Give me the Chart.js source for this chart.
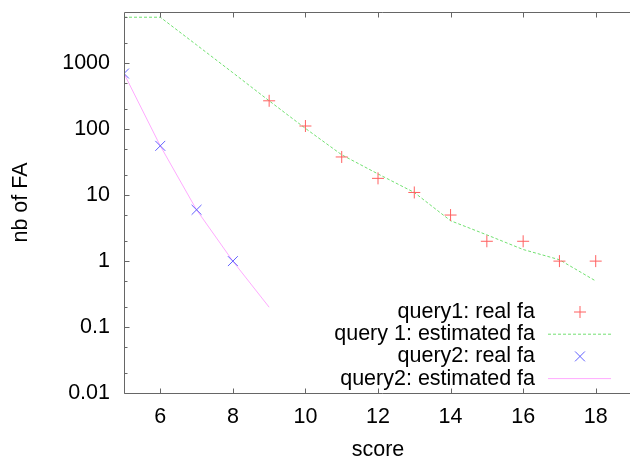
<!DOCTYPE html>
<html>
<head>
<meta charset="utf-8">
<script src="https://cdn.jsdelivr.net/npm/chart.js@4.4.1/dist/chart.umd.min.js"></script>
<style>
  html, body { margin: 0; padding: 0; background: #fff; overflow: hidden; }
  canvas { display: block; }
</style>
</head>
<body>
<canvas id="fa-chart" width="640" height="457"></canvas>
<script>
// data
var realScores1 = [9, 10, 11, 12, 13, 14, 15, 16, 17, 18];
var realFa1 = [270, 112, 38, 18, 11, 5, 2, 2, 1, 1];
var estScores1 = [5, 6, 7, 8, 9, 10, 11, 12, 13, 14, 15, 16, 17, 18];
var estFa1 = [5000, 5000, 1900, 720, 270, 103, 41, 21, 11, 4.1, 2.5, 1.5, 1.05, 0.5];
var realScores2 = [5, 6, 7, 8];
var realFa2 = [700, 56, 6, 1];
var estScores2 = [5, 6, 7, 8, 9];
var estFa2 = [700, 56, 6, 1, 0.2];
var xTicks = [6, 8, 10, 12, 14, 16, 18];
var yTicks = [0.01, 0.02, 0.05, 0.1, 0.2, 0.5, 1, 2, 5, 10, 20, 50, 100, 200, 500, 1000, 2000, 5000];
var yLabels = [0.01, 0.1, 1, 10, 100, 1000];

var FONT = '"Liberation Sans", Arial, sans-serif';
var FSIZE = 21.5;
var BORDER = '#666666';

function pts(xs, ys) {
    return xs.map(function (x, i) { return {x: x, y: ys[i]}; });
}

// gnuplot-like frame with inward ticks (right side falls outside the window)
var framePlugin = {
    id: 'frame',
    afterDatasetsDraw: function (chart) {
        var ctx = chart.ctx, a = chart.chartArea;
        var xs = chart.scales.x, ys = chart.scales.y;
        var l = Math.round(a.left) + 0.5, t = Math.round(a.top) + 0.5, b = Math.round(a.bottom) + 0.5;
        ctx.save();
        ctx.strokeStyle = BORDER;
        ctx.lineWidth = 1;
        ctx.beginPath();
        xTicks.forEach(function (v) {
            var px = Math.round(xs.getPixelForValue(v)) + 0.5;
            ctx.moveTo(px, b); ctx.lineTo(px, b - 5);
            ctx.moveTo(px, t); ctx.lineTo(px, t + 5);
        });
        yTicks.forEach(function (v) {
            var py = Math.round(ys.getPixelForValue(v)) + 0.5;
            var len = yLabels.indexOf(v) >= 0 ? 5 : 3;
            ctx.moveTo(l, py); ctx.lineTo(l + len, py);
        });
        ctx.moveTo(a.right + 10, t); ctx.lineTo(l, t); ctx.lineTo(l, b); ctx.lineTo(a.right + 10, b);
        ctx.stroke();
        ctx.restore();
    }
};

// legend in the lower right, text right-aligned with sample after it
var keyPlugin = {
    id: 'key',
    afterDraw: function (chart) {
        var ctx = chart.ctx;
        ctx.save();
        ctx.font = FSIZE + 'px ' + FONT;
        ctx.textAlign = 'right';
        ctx.textBaseline = 'middle';
        chart.data.datasets.forEach(function (ds, i) {
            var y = 312 + i * 22.2;
            ctx.fillStyle = '#000';
            ctx.fillText(ds.label, 535, y);
            ctx.strokeStyle = ds.borderColor;
            ctx.lineWidth = ds.borderWidth;
            ctx.beginPath();
            if (ds.showLine === false) {
                var r = ds.pointRadius;
                if (ds.pointStyle === 'cross') {
                    ctx.moveTo(580 - r, y); ctx.lineTo(580 + r, y);
                    ctx.moveTo(580, y - r); ctx.lineTo(580, y + r);
                } else {
                    var d = r * 0.707;
                    ctx.moveTo(580 - d, y - d); ctx.lineTo(580 + d, y + d);
                    ctx.moveTo(580 - d, y + d); ctx.lineTo(580 + d, y - d);
                }
            } else {
                ctx.setLineDash(ds.borderDash || []);
                ctx.moveTo(548, y); ctx.lineTo(611, y);
            }
            ctx.stroke();
            ctx.setLineDash([]);
        });
        ctx.restore();
    }
};

var chart = new Chart(document.getElementById('fa-chart'), {
    type: 'line',
    data: {
        datasets: [{
            label: 'query1: real fa',
            data: pts(realScores1, realFa1),
            showLine: false,
            pointStyle: 'cross',
            pointRadius: 6,
            borderWidth: 1,
            borderColor: '#ff6060',
            backgroundColor: '#ff6060'
        }, {
            label: 'query 1: estimated fa',
            data: pts(estScores1, estFa1),
            pointRadius: 0,
            borderWidth: 1,
            borderColor: '#70e070',
            borderDash: [3, 2],
            tension: 0
        }, {
            label: 'query2: real fa',
            data: pts(realScores2, realFa2),
            showLine: false,
            pointStyle: 'crossRot',
            pointRadius: 7,
            borderWidth: 1,
            borderColor: '#6060ff',
            backgroundColor: '#6060ff'
        }, {
            label: 'query2: estimated fa',
            data: pts(estScores2, estFa2),
            pointRadius: 0,
            borderWidth: 1,
            borderColor: '#ffaaff',
            tension: 0
        }]
    },
    options: {
        responsive: false,
        animation: false,
        events: [],
        layout: {padding: {top: 12, right: 1, left: 0, bottom: 0}},
        plugins: {legend: {display: false}, tooltip: {enabled: false}},
        scales: {
            x: {
                type: 'linear',
                min: 5,
                max: 19,
                afterBuildTicks: function (scale) {
                    scale.ticks = xTicks.map(function (v) { return {value: v}; });
                },
                afterFit: function (scale) {
                    scale.height = 64;
                    scale.paddingLeft = 0;
                    scale.paddingRight = 0;
                },
                grid: {display: false, drawTicks: false},
                border: {display: false},
                ticks: {color: '#000', padding: 11, font: {family: FONT, size: FSIZE}, maxRotation: 0, autoSkip: false},
                title: {display: true, text: 'score', color: '#000', padding: {top: 0, bottom: -4},
                    font: {family: FONT, size: FSIZE, lineHeight: 1}}
            },
            y: {
                type: 'logarithmic',
                min: 0.01,
                max: 6000,
                afterBuildTicks: function (scale) {
                    scale.ticks = yTicks.map(function (v) { return {value: v}; });
                },
                afterFit: function (scale) {
                    scale.width = 124;
                    scale.paddingTop = 0;
                    scale.paddingBottom = 0;
                },
                grid: {display: false, drawTicks: false},
                border: {display: false},
                ticks: {
                    color: '#000', padding: 14, autoSkip: false,
                    font: {family: FONT, size: FSIZE},
                    callback: function (v) { return yLabels.indexOf(v) >= 0 ? String(v) : ''; }
                },
                title: {display: true, text: 'nb of FA', color: '#000', padding: {top: 8, bottom: 0},
                    font: {family: FONT, size: FSIZE, lineHeight: 1.2}}
            }
        }
    },
    plugins: [framePlugin, keyPlugin]
});
</script>
</body>
</html>
